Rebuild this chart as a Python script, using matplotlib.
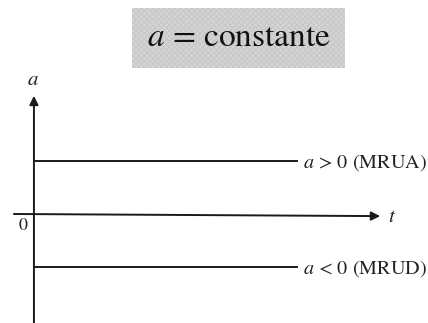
import matplotlib
matplotlib.use("Agg")
import matplotlib.pyplot as plt
from matplotlib.patches import Rectangle

# datos: aceleración constante en función del tiempo
t = [0.0, 1.0]
a_pos = [1.0, 1.0]    # a > 0 (MRUA)
a_neg = [-1.0, -1.0]  # a < 0 (MRUD)
labels = ["$a$ > 0 (MRUA)", "$a$ < 0 (MRUD)"]
title = "$a$ = constante"

plt.rcParams['mathtext.fontset'] = 'stix'
plt.rcParams['font.family'] = ['STIXGeneral', 'DejaVu Serif']

fig = plt.figure(figsize=(4.28, 3.23), dpi=100)
ax = fig.add_axes([0, 0, 1, 1])
ax.set_xlim(-0.129, 1.498)
ax.set_ylim(-2.057, 4.038)
ax.axis('off')

# caja gris del título
box = Rectangle((0.309, 0.789), 0.497, 0.186, transform=fig.transFigure,
                facecolor='#d6d6d6', edgecolor='#c9c9c9', hatch='xxxxxx', linewidth=0)
fig.patches.append(box)
fig.text(0.558, 0.882, title, ha='center', va='center', fontsize=24, color='#111111')

# ejes con flechas
arrow = dict(arrowstyle='-|>', lw=1.4, color='#1a1a1a', mutation_scale=13, shrinkA=0, shrinkB=0)
ax.annotate('', xy=(0, 2.23), xytext=(0, -2.1), arrowprops=arrow)
ax.annotate('', xy=(1.316, -0.04), xytext=(-0.076, 0.0), arrowprops=arrow)
ax.text(-0.004, 2.53, '$a$', ha='center', va='center', fontsize=15, color='#222222')
ax.text(1.363, -0.05, '$t$', ha='center', va='center', fontsize=15, color='#222222')
ax.text(-0.042, -0.22, '0', ha='center', va='center', fontsize=13, color='#222222')

# rectas a = constante
ax.plot(t, a_pos, color='#1a1a1a', lw=1.4)
ax.plot(t, a_neg, color='#1a1a1a', lw=1.4)
ax.text(1.023, a_pos[0] - 0.03, labels[0], ha='left', va='center', fontsize=14.5, color='#222222')
ax.text(1.023, a_neg[0] - 0.03, labels[1], ha='left', va='center', fontsize=14.5, color='#222222')

fig.savefig('out.png', dpi=100)
